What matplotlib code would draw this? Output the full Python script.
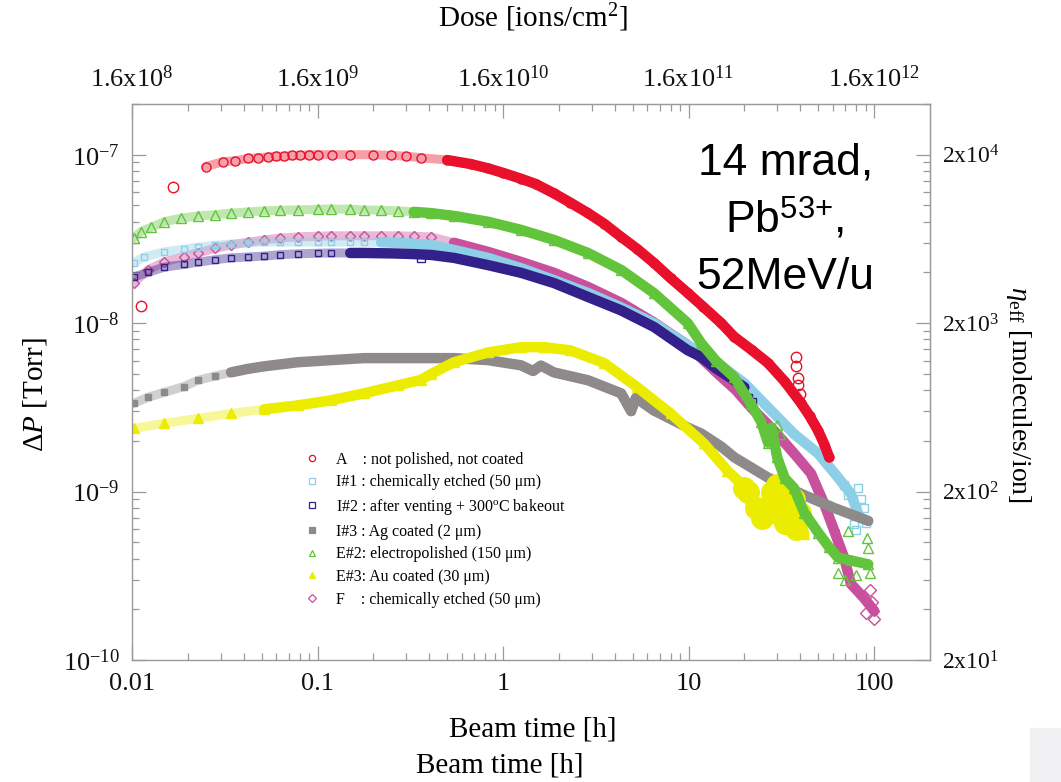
import numpy as np
import matplotlib.pyplot as plt
from matplotlib.ticker import FixedLocator, FixedFormatter, NullFormatter
from matplotlib.patches import Rectangle

plt.rcParams['font.family'] = ['Liberation Serif', 'DejaVu Serif']
plt.rcParams['mathtext.fontset'] = 'custom'
plt.rcParams['mathtext.rm'] = 'Liberation Serif'
plt.rcParams['mathtext.it'] = 'Liberation Serif:italic'
plt.rcParams['mathtext.sf'] = 'Liberation Sans'

# ---- data: beam time [h] vs pressure rise [Torr] ----
# A : not polished, not coated
t_A = [0.025, 0.031, 0.036, 0.042, 0.048, 0.054, 0.06, 0.066, 0.073, 0.08, 0.09, 0.1,
       0.12, 0.15, 0.2, 0.25, 0.3, 0.36, 0.5, 0.67, 0.83, 1.0, 1.25, 1.5, 1.88, 2.3,
       2.87, 3.5, 4.33, 5.3, 6.5, 8.0, 9.9, 12, 15, 17.6, 22, 26.8, 33, 40.4, 45,
       49.9, 54, 57.2]
P_A = [8.5e-8, 9.1e-8, 9.2e-8, 9.5e-8, 9.6e-8, 9.7e-8, 9.8e-8, 9.8e-8, 9.9e-8, 9.9e-8,
       1.0e-7, 1.0e-7, 1.0e-7, 1.0e-7, 1.0e-7, 9.9e-8, 9.8e-8, 9.6e-8, 9.3e-8, 8.8e-8,
       8.3e-8, 7.8e-8, 7.2e-8, 6.7e-8, 5.9e-8, 5.2e-8, 4.5e-8, 3.9e-8, 3.25e-8, 2.75e-8,
       2.28e-8, 1.85e-8, 1.51e-8, 1.25e-8, 1.0e-8, 8.3e-9, 6.9e-9, 5.8e-9, 4.5e-9,
       3.35e-9, 2.8e-9, 2.3e-9, 1.9e-9, 1.6e-9]
t_A_out = [0.0112, 0.0166, 38, 38, 39, 39, 40]
P_A_out = [1.26e-8, 6.4e-8, 6.3e-9, 5.6e-9, 4.7e-9, 4.3e-9, 3.8e-9]

# I#1 : chemically etched (50 um)
t_I1 = [0.0102, 0.0116, 0.0149, 0.019, 0.0227, 0.028, 0.0342, 0.042, 0.0515, 0.063,
        0.0785, 0.1, 0.118, 0.15, 0.178, 0.22, 0.27, 0.33, 0.41, 0.544, 0.83, 1.25,
        1.88, 2.87, 4.33, 6.5, 9.9, 14, 20, 26.8, 37, 50, 64, 75, 82]
P_I1 = [2.28e-8, 2.47e-8, 2.65e-8, 2.75e-8, 2.83e-8, 2.9e-8, 2.95e-8, 3.0e-8, 3.03e-8,
        3.03e-8, 3.03e-8, 3.03e-8, 3.03e-8, 3.03e-8, 3.03e-8, 3.02e-8, 3.0e-8, 2.96e-8,
        2.91e-8, 2.72e-8, 2.44e-8, 2.12e-8, 1.8e-8, 1.51e-8, 1.24e-8, 1.0e-8, 7.4e-9,
        5.9e-9, 4.4e-9, 3.16e-9, 2.2e-9, 1.68e-9, 1.21e-9, 9.7e-10, 7.4e-10]
t_I1_out = [69, 72, 78, 80, 82, 85, 88, 90]
P_I1_out = [1.1e-9, 9.5e-10, 6.4e-10, 5.9e-10, 1.05e-9, 9.0e-10, 8.0e-10, 6.5e-10]

# I#2 : after venting + 300 C bakeout
t_I2 = [0.0102, 0.0122, 0.0149, 0.019, 0.0227, 0.028, 0.0342, 0.042, 0.0515, 0.063,
        0.0785, 0.1, 0.118, 0.15, 0.178, 0.22, 0.27, 0.33, 0.41, 0.544, 0.83, 1.25,
        1.88, 2.87, 4.33, 6.5, 9.9, 11.7, 14, 17, 20]
P_I2 = [1.88e-8, 2.0e-8, 2.15e-8, 2.23e-8, 2.3e-8, 2.38e-8, 2.44e-8, 2.47e-8, 2.5e-8,
        2.55e-8, 2.58e-8, 2.6e-8, 2.61e-8, 2.61e-8, 2.61e-8, 2.6e-8, 2.59e-8, 2.57e-8,
        2.54e-8, 2.44e-8, 2.21e-8, 1.99e-8, 1.73e-8, 1.43e-8, 1.19e-8, 9.5e-9, 6.9e-9,
        6.3e-9, 5.4e-9, 4.7e-9, 4.16e-9]
t_I2_out = [0.36, 21, 22]
P_I2_out = [2.44e-8, 3.6e-9, 3.4e-9]

# I#3 : Ag coated (2 um)
t_I3 = [0.0102, 0.0122, 0.0149, 0.019, 0.0227, 0.028, 0.0342, 0.042, 0.0515, 0.0785,
        0.118, 0.178, 0.27, 0.41, 0.544, 0.83, 1.25, 1.45, 1.6, 1.88, 2.87, 4.33, 4.9,
        5.2, 6.5, 9.9, 11.7, 15, 17.6, 26.8, 40.4, 60.8, 93]
P_I3 = [3.34e-9, 3.63e-9, 3.88e-9, 4.2e-9, 4.58e-9, 4.85e-9, 5.1e-9, 5.35e-9, 5.54e-9,
        5.86e-9, 6.03e-9, 6.2e-9, 6.2e-9, 6.2e-9, 6.2e-9, 6.03e-9, 5.62e-9, 5.2e-9,
        5.6e-9, 5.1e-9, 4.58e-9, 3.83e-9, 3.0e-9, 3.6e-9, 3.03e-9, 2.4e-9, 2.21e-9,
        1.85e-9, 1.6e-9, 1.21e-9, 9.7e-10, 8.0e-10, 6.7e-10]

# E#2 : electropolished (150 um)
t_E2 = [0.0102, 0.0112, 0.0126, 0.0149, 0.0184, 0.0227, 0.028, 0.0342, 0.042, 0.0515,
        0.063, 0.0785, 0.1, 0.118, 0.15, 0.178, 0.22, 0.27, 0.33, 0.41, 0.544, 0.83,
        1.25, 1.88, 2.87, 4.33, 6.5, 9.9, 11.7, 14, 17.6, 21.7, 24.6, 26.8, 28, 30,
        33, 37, 42, 50, 57, 64, 75, 93]
P_E2 = [3.2e-8, 3.5e-8, 3.7e-8, 4.0e-8, 4.2e-8, 4.33e-8, 4.4e-8, 4.5e-8, 4.57e-8,
        4.64e-8, 4.68e-8, 4.7e-8, 4.74e-8, 4.76e-8, 4.75e-8, 4.7e-8, 4.68e-8, 4.64e-8,
        4.58e-8, 4.5e-8, 4.33e-8, 4.0e-8, 3.58e-8, 3.12e-8, 2.61e-8, 2.07e-8, 1.51e-8,
        1.0e-8, 7.6e-9, 6.0e-9, 4.77e-9, 3.3e-9, 2.6e-9, 1.95e-9, 2.4e-9, 1.6e-9,
        1.2e-9, 1.05e-9, 7.5e-10, 5.7e-10, 4.7e-10, 4.05e-10, 3.9e-10, 3.7e-10]
t_E2_out = [30, 31, 64, 70, 72, 80, 91, 93, 95]
P_E2_out = [2.5e-9, 2.2e-9, 3.3e-10, 3.0e-10, 5.8e-10, 3.2e-10, 5.3e-10, 4.6e-10, 3.3e-10]

# E#3 : Au coated (30 um)
t_E3 = [0.0102, 0.0149, 0.0227, 0.0342, 0.0515, 0.0785, 0.118, 0.178, 0.27, 0.36,
        0.41, 0.544, 0.83, 1.25, 1.66, 2.3, 3.5, 5.3, 8.0, 12.1, 16.2, 19.1, 21.7,
        26.8, 29.6, 37.1, 40.4, 42]
P_E3 = [2.37e-9, 2.54e-9, 2.72e-9, 2.91e-9, 3.08e-9, 3.25e-9, 3.48e-9, 3.83e-9,
        4.27e-9, 4.6e-9, 5.0e-9, 5.86e-9, 6.7e-9, 7.2e-9, 7.2e-9, 6.9e-9, 5.8e-9,
        4.16e-9, 2.91e-9, 1.93e-9, 1.33e-9, 1.12e-9, 8.5e-10, 7.4e-10, 9.3e-10,
        8.5e-10, 6.5e-10, 5.6e-10]
t_E3_out = [20, 21, 23, 25, 27, 28, 30, 32, 34, 35, 36, 38, 40, 33, 30, 28, 37, 31, 34]
P_E3_out = [1.05e-9, 1.0e-9, 8.0e-10, 7.0e-10, 8.0e-10, 1.0e-9, 1.1e-9, 1.05e-9, 9.5e-10,
            8.0e-10, 7.0e-10, 6.0e-10, 7.5e-10, 6.5e-10, 7.5e-10, 8.5e-10, 9.0e-10,
            9.0e-10, 6.5e-10]

# F : chemically etched (50 um)
t_F = [0.0102, 0.0122, 0.0149, 0.019, 0.0227, 0.028, 0.0342, 0.042, 0.0515, 0.063,
       0.0785, 0.1, 0.118, 0.15, 0.178, 0.22, 0.27, 0.33, 0.41, 0.544, 0.83, 1.25,
       1.88, 2.87, 4.33, 6.5, 9.9, 14.4, 18, 21.7, 28.9, 37.1, 45.7, 53.7, 60.8,
       68.9, 75, 88, 100]
P_F = [1.73e-8, 2.07e-8, 2.31e-8, 2.48e-8, 2.61e-8, 2.78e-8, 2.91e-8, 3.02e-8, 3.12e-8,
       3.2e-8, 3.25e-8, 3.28e-8, 3.3e-8, 3.3e-8, 3.3e-8, 3.3e-8, 3.3e-8, 3.28e-8,
       3.25e-8, 3.0e-8, 2.65e-8, 2.31e-8, 1.99e-8, 1.64e-8, 1.32e-8, 1.01e-8, 7.4e-9,
       5.0e-9, 4.0e-9, 3.16e-9, 2.3e-9, 1.68e-9, 1.28e-9, 8.5e-10, 5.9e-10, 4.05e-10,
       2.83e-10, 2.34e-10, 1.96e-10]
t_F_out = [90, 95, 98, 100]
P_F_out = [1.9e-10, 2.6e-10, 2.2e-10, 1.75e-10]

labels = ['A    : not polished, not coated',
          'I#1 : chemically etched (50 \u03bcm)',
          'I#2 : after venting + 300$^{\\rm o}$C bakeout',
          'I#3 : Ag coated (2 \u03bcm)',
          'E#2: electropolished (150 \u03bcm)',
          'E#3: Au coated (30 \u03bcm)',
          'F    : chemically etched (50 \u03bcm)']

x_ticks = [0.01, 0.1, 1, 10, 100]
x_ticklabels = ['0.01', '0.1', '1', '10', '100']
y_ticks = [1e-10, 1e-9, 1e-8, 1e-7]
y_ticklabels = ['10$^{-10}$', '10$^{-9}$', '10$^{-8}$', '10$^{-7}$']
dose_ticks = [1.6e8, 1.6e9, 1.6e10, 1.6e11, 1.6e12]
dose_ticklabels = ['1.6x10$^{8}$', '1.6x10$^{9}$', '1.6x10$^{10}$', '1.6x10$^{11}$', '1.6x10$^{12}$']
eta_ticks = [2e1, 2e2, 2e3, 2e4]
eta_ticklabels = ['2x10$^{1}$', '2x10$^{2}$', '2x10$^{3}$', '2x10$^{4}$']

# ---- styles: (data, label index, colour, marker, filled, solid-band start, extra size) ----
series = [
    (t_F, P_F, t_F_out, P_F_out, 6, '#c8509c', 'D', False, 0.45, 1),
    (t_I1, P_I1, t_I1_out, P_I1_out, 1, '#8ccfe6', 's', False, 0.2, 1),
    (t_I2, P_I2, t_I2_out, P_I2_out, 2, '#34208a', 's', False, 0.13, 1),
    (t_I3, P_I3, [], [], 3, '#8e8a8a', 's', True, 0.03, 1),
    (t_E3, P_E3, t_E3_out, P_E3_out, 5, '#ecec00', 'o', True, 0.05, 9),
    (t_E2, P_E2, t_E2_out, P_E2_out, 4, '#62c43a', '^', False, 0.3, 1),
    (t_A, P_A, t_A_out, P_A_out, 0, '#e8102a', 'o', False, 0.45, 1),
]
markers = {5: '^'}
legend_order = [0, 1, 2, 3, 4, 5, 6]

fig = plt.figure(figsize=(10.61, 7.82), dpi=100)
ax = fig.add_axes([0.1244, 0.156, 0.7521, 0.711])

handles = {}
for t, p, to, po, li, col, mk, filled, t_solid, extra in series:
    t = np.array(t)
    p = np.array(p)
    fc = col if filled else 'none'
    mk_band = markers.get(li, mk)
    ms = 5 if mk_band in ('s', 'D') else 6.5
    ax.plot(t, p, color=col, lw=6.5, alpha=0.4, solid_capstyle='round')
    solid = t >= t_solid
    ax.plot(t[solid], p[solid], color=col, lw=7.5, solid_capstyle='round')
    ax.plot(t, p, ls='none', marker=mk_band, ms=ms, mfc=fc, mec=col, mew=1)
    if len(to):
        ax.plot(to, po, ls='none', marker=mk, ms=ms + extra, mfc=fc, mec=col, mew=1)
    h, = ax.plot([], [], ls='none', marker=mk_band, ms=4.5, mfc=fc, mec=col, mew=0.9)
    handles[li] = h

ax.set_xscale('log')
ax.set_yscale('log')
ax.set_xlim(0.01, 200)
ax.set_ylim(1e-10, 2e-7)

grey = '#9a9a9a'
for s in ax.spines.values():
    s.set_color(grey)
    s.set_linewidth(1.0)

ax.xaxis.set_major_locator(FixedLocator(x_ticks))
ax.xaxis.set_major_formatter(FixedFormatter(x_ticklabels))
ax.xaxis.set_minor_locator(FixedLocator([k * d for d in [0.01, 0.1, 1, 10, 100] for k in range(2, 10) if k * d < 200]))
ax.xaxis.set_minor_formatter(NullFormatter())
ax.yaxis.set_major_locator(FixedLocator(y_ticks))
ax.yaxis.set_major_formatter(FixedFormatter(y_ticklabels))
ax.yaxis.set_minor_locator(FixedLocator([k * d for d in [1e-10, 1e-9, 1e-8, 1e-7] for k in range(2, 10) if k * d <= 2e-7]))
ax.yaxis.set_minor_formatter(NullFormatter())

tick_kw = dict(direction='in', color=grey, width=0.9, labelcolor='#111111')
ax.tick_params(which='major', length=10, pad=9, labelsize=19, **tick_kw)
ax.tick_params(which='minor', length=5, **tick_kw)

top = ax.secondary_xaxis('top', functions=(lambda x: x * 1.6e10, lambda d: d / 1.6e10))
top.xaxis.set_major_locator(FixedLocator(dose_ticks))
top.xaxis.set_major_formatter(FixedFormatter(dose_ticklabels))
top.xaxis.set_minor_locator(FixedLocator([k * d for d in dose_ticks for k in range(2, 10) if k * d < 3.2e12]))
top.xaxis.set_minor_formatter(NullFormatter())
top.tick_params(which='major', length=10, pad=9, labelsize=19, **tick_kw)
top.tick_params(which='minor', length=5, **tick_kw)
top.spines['top'].set_color(grey)

right = ax.secondary_yaxis('right', functions=(lambda p: p * 2e11, lambda e: e / 2e11))
right.yaxis.set_major_locator(FixedLocator(eta_ticks))
right.yaxis.set_major_formatter(FixedFormatter(eta_ticklabels))
right.yaxis.set_minor_locator(FixedLocator([k * d for d in [2e1, 2e2, 2e3, 2e4] for k in range(2, 10) if k * d <= 4e4]))
right.yaxis.set_minor_formatter(NullFormatter())
right.tick_params(which='major', length=10, pad=9, labelsize=17, **tick_kw)
right.tick_params(which='minor', length=5, **tick_kw)
right.spines['right'].set_color(grey)

ax.legend([handles[i] for i in legend_order], [labels[i] for i in legend_order],
          loc='upper left', bbox_to_anchor=(0.2155, 0.375), frameon=False,
          fontsize=11.5, handlelength=1.0, handletextpad=1.0, labelspacing=0.42,
          borderpad=0, borderaxespad=0)

fig.text(0.502, 0.977, 'Dose [ions/cm$^{2}$]', ha='center', va='center', fontsize=21)
fig.text(0.502, 0.0665, 'Beam time [h]', ha='center', va='center', fontsize=21)
fig.text(0.471, 0.0217, 'Beam time [h]', ha='center', va='center', fontsize=21)
fig.text(0.033, 0.495, '$\\Delta P$ [Torr]', ha='center', va='center', rotation=90, fontsize=21)
fig.text(0.960, 0.495, '$\\eta_{\\rm eff}$ [molecules/ion]', ha='center', va='center',
         rotation=270, fontsize=20)

ann = dict(ha='center', va='baseline', fontsize=32, family='Liberation Sans')
fig.text(0.740, 1 - 175 / 782, '14 mrad,', **ann)
fig.text(0.739, 1 - 232 / 782, 'Pb$^{\\mathsf{53{+}}}$,', **ann)
fig.text(0.740, 1 - 289 / 782, '52MeV/u', **ann)

fig.add_artist(Rectangle((1030 / 1061, 0), 31 / 1061, 54 / 782, transform=fig.transFigure,
                         color='#f0f0f2', zorder=-1))

fig.savefig('out.png', dpi=100)
